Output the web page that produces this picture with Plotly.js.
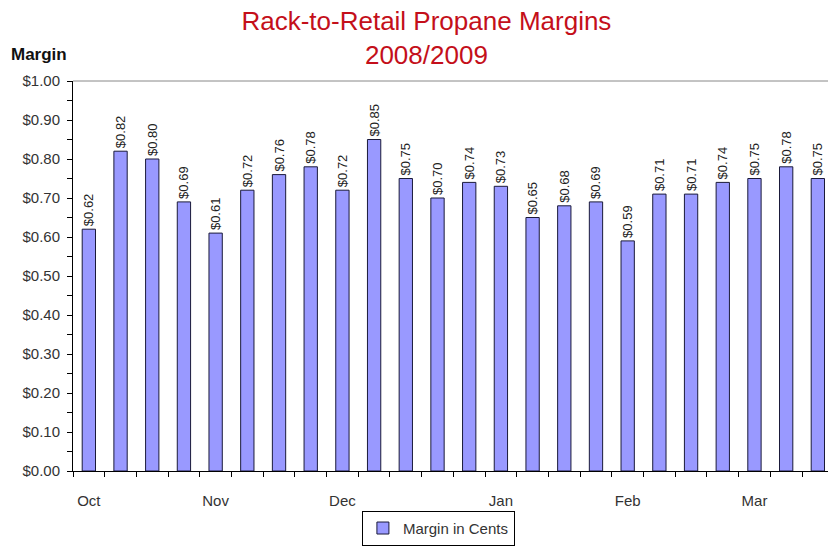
<!DOCTYPE html>
<html>
<head>
<meta charset="utf-8">
<script src="https://cdn.plot.ly/plotly-3.0.1.min.js"></script>
<style>
html,body{margin:0;padding:0;background:#fff;}
#chart{width:828px;height:546px;}
</style>
</head>
<body>
<div id="chart"></div>
<script>
// Weekly rack-to-retail propane margins, Oct 2008 - Mar 2009
var weeks = [1,2,3,4,5,6,7,8,9,10,11,12,13,14,15,16,17,18,19,20,21,22,23,24];
var margins = [0.62,0.82,0.80,0.69,0.61,0.72,0.76,0.78,0.72,0.85,0.75,0.70,0.74,0.73,0.65,0.68,0.69,0.59,0.71,0.71,0.74,0.75,0.78,0.75];
var monthLabels = ['Oct','Nov','Dec','Jan','Feb','Mar'];
var monthWeeks = [1,5,9,14,18,22];
var seriesName = 'Margin in Cents';

var labels = margins.map(function(v){ return '$' + v.toFixed(2); });

var trace = {
  type: 'bar',
  x: weeks,
  y: margins,
  name: seriesName,
  width: 0.42,
  marker: {color: '#9999FF', line: {color: '#1a1a3a', width: 1}},
  text: labels,
  textposition: 'outside',
  textangle: -90,
  constraintext: 'none',
  cliponaxis: false,
  textfont: {family: 'Liberation Sans, Arial, sans-serif', size: 13, color: '#222'},
  showlegend: true,
  hoverinfo: 'x+y'
};

var layout = {
  width: 828,
  height: 546,
  margin: {l: 73, r: 0, t: 81, b: 73},
  paper_bgcolor: '#fff',
  plot_bgcolor: '#fff',
  font: {family: 'Liberation Sans, Arial, sans-serif', size: 14, color: '#333'},
  title: {
    text: 'Rack-to-Retail Propane Margins<br>2008/2009',
    font: {family: 'Liberation Sans, Arial, sans-serif', size: 26, color: '#C40F1A'},
    x: 0.515, xanchor: 'center', y: 0.945, yanchor: 'top'
  },
  xaxis: {
    range: [0.5, 24.32],
    tickmode: 'array',
    tickvals: monthWeeks,
    ticktext: monthLabels,
    ticks: '',
    ticklabelstandoff: 16,
    tickfont: {size: 15, color: '#333'},
    showline: true, linecolor: '#000', linewidth: 1,
    showgrid: false, zeroline: false,
    minor: {tickmode: 'linear', tick0: 0.5, dtick: 1, ticks: 'outside', ticklen: 5, tickcolor: '#000', showgrid: false}
  },
  yaxis: {
    range: [0, 1],
    dtick: 0.1,
    tickformat: '$.2f',
    ticks: 'outside', ticklen: 5, tickcolor: '#000',
    ticklabelstandoff: 4,
    tickfont: {size: 15, color: '#333'},
    showline: true, linecolor: '#000', linewidth: 1,
    showgrid: false, zeroline: false,
    minor: {dtick: 0.05, ticks: 'outside', ticklen: 5, tickcolor: '#000', showgrid: false}
  },
  shapes: [{type: 'line', xref: 'paper', yref: 'paper', x0: 0, x1: 1, y0: 1, y1: 1, line: {color: '#888', width: 1}}],
  annotations: [{
    text: '<b>Margin</b>', xref: 'paper', yref: 'paper', x: -0.085, y: 1.069,
    xanchor: 'left', yanchor: 'middle', showarrow: false,
    font: {size: 17, color: '#111'}
  }],
  legend: {
    orientation: 'h', x: 0.484, xanchor: 'center', y: -0.102, yanchor: 'top',
    bordercolor: '#000', borderwidth: 1, bgcolor: '#fff',
    font: {size: 15, color: '#333'}
  }
};

Plotly.newPlot('chart', [trace], layout, {displayModeBar: false, staticPlot: true});
</script>
</body>
</html>
